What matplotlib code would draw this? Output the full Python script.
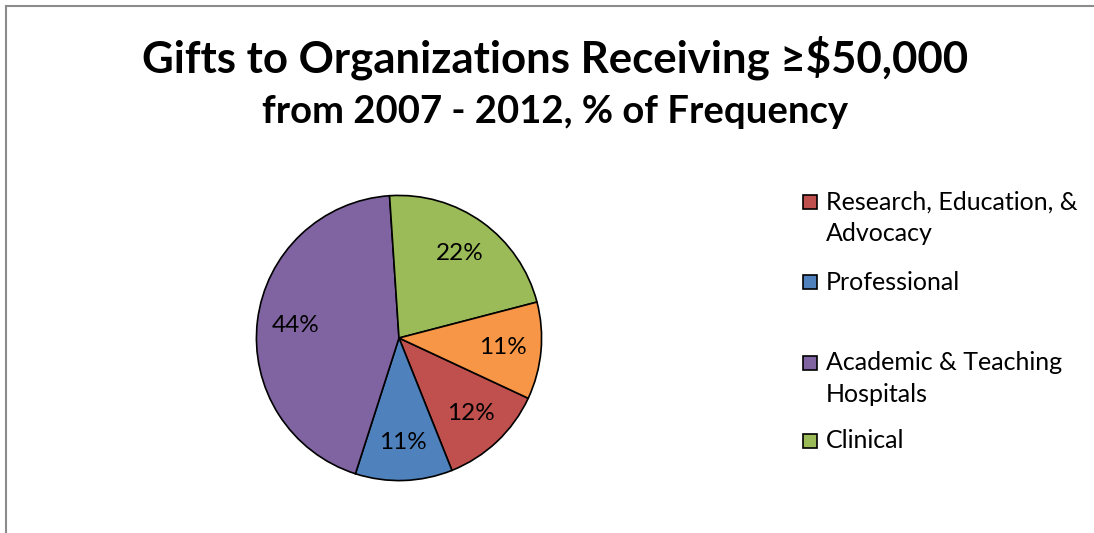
import matplotlib
matplotlib.use("Agg")
import matplotlib.pyplot as plt
from matplotlib.patches import Rectangle
from matplotlib.lines import Line2D

plt.rcParams['font.family'] = ['Lato', 'DejaVu Sans']

legend_labels = ["Research, Education, &\nAdvocacy", "Professional", "Academic & Teaching\nHospitals", "Clinical"]
slice_values = [12, 11, 44, 22, 11]
colors = ["#C0504D", "#4F81BD", "#8064A2", "#9BBB59", "#F79646"]
title1 = "Gifts to Organizations Receiving \u2265$50,000"
title2 = "from 2007 - 2012, % of Frequency"

W, H = 1094, 533
fig = plt.figure(figsize=(W / 100, H / 100), dpi=100)
fig.patch.set_facecolor("white")

# chart border (left + top visible)
fig.add_artist(Line2D([6 / W, 6 / W], [0, 1 - 6 / H], color="#8c8c8c", lw=1.5))
fig.add_artist(Line2D([6 / W, 1], [1 - 6 / H, 1 - 6 / H], color="#8c8c8c", lw=1.5))

cx, cy, r = 399, 338, 144
ax = fig.add_axes([(cx - r) / W, (H - cy - r) / H, 2 * r / W, 2 * r / H])
wedges, texts, autotexts = ax.pie(
    slice_values, colors=colors, startangle=-25, counterclock=False,
    autopct=lambda p: f"{p:.0f}%", pctdistance=0.73,
    wedgeprops=dict(edgecolor="black", linewidth=1.2),
    textprops=dict(fontsize=17.5, color="black"), radius=1.0)
ax.set_xlim(-1.01, 1.01)
ax.set_ylim(-1.01, 1.01)
ax.set_aspect("equal")
ax.axis("off")

fig.text(555 / W, 1 - 58 / H, title1, ha="center", va="center", fontsize=31.5, fontweight="bold")
fig.text(555 / W, 1 - 112 / H, title2, ha="center", va="center", fontsize=27.5, fontweight="bold")

# legend (manual, Excel style: marker aligned with first line)
legend_y = [202, 282, 363, 441]
line_step = 32
sq = 14
for lab, col, y in zip(legend_labels, [colors[0], colors[1], colors[2], colors[3]], legend_y):
    fig.add_artist(Rectangle(((803) / W, 1 - (y + sq / 2) / H), sq / W, sq / H,
                             facecolor=col, edgecolor="black", lw=1.2,
                             transform=fig.transFigure))
    for i, line in enumerate(lab.split("\n")):
        fig.text(826 / W, 1 - (y + i * line_step) / H, line, ha="left", va="center",
                 fontsize=18)

fig.savefig("out.png", dpi=100)
